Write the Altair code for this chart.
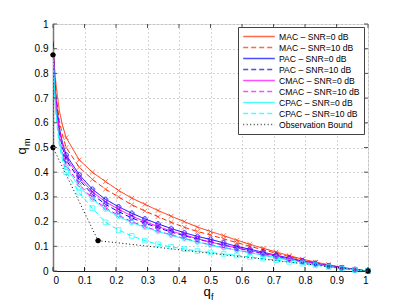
import altair as alt
import pandas as pd

QF = [0.0, 0.005, 0.01, 0.02, 0.03,
      0.0417, 0.0833, 0.125, 0.1667, 0.2083, 0.25, 0.2917, 0.3333, 0.375, 0.4167,
      0.4583, 0.5, 0.5417, 0.5833, 0.625, 0.6667, 0.7083, 0.75, 0.7917, 0.8333,
      0.875, 0.9167, 0.9583, 1.0]

MAC_0 = [0.92, 0.82, 0.75, 0.65, 0.59,
         0.54, 0.45, 0.40, 0.362, 0.326, 0.295, 0.270, 0.245, 0.222, 0.200,
         0.178, 0.160, 0.143, 0.125, 0.108, 0.092, 0.077, 0.062, 0.048, 0.036,
         0.025, 0.015, 0.007, 0.0]
MAC_10 = [0.91, 0.79, 0.71, 0.61, 0.55,
          0.50, 0.42, 0.371, 0.331, 0.300, 0.268, 0.243, 0.220, 0.197, 0.177,
          0.160, 0.146, 0.130, 0.115, 0.100, 0.086, 0.072, 0.058, 0.046, 0.034,
          0.024, 0.014, 0.006, 0.0]
PAC_0 = [0.93, 0.78, 0.69, 0.58, 0.52,
         0.47, 0.39, 0.331, 0.290, 0.260, 0.234, 0.211, 0.191, 0.172, 0.155,
         0.140, 0.128, 0.114, 0.100, 0.088, 0.076, 0.064, 0.052, 0.041, 0.031,
         0.021, 0.013, 0.006, 0.0]
PAC_10 = [0.92, 0.76, 0.67, 0.56, 0.50,
          0.45, 0.37, 0.310, 0.270, 0.240, 0.215, 0.194, 0.175, 0.158, 0.143,
          0.129, 0.117, 0.105, 0.093, 0.082, 0.071, 0.060, 0.049, 0.039, 0.029,
          0.020, 0.012, 0.005, 0.0]
CMAC_0 = [0.91, 0.77, 0.68, 0.57, 0.51,
          0.46, 0.38, 0.320, 0.280, 0.250, 0.223, 0.200, 0.180, 0.162, 0.146,
          0.131, 0.117, 0.105, 0.094, 0.083, 0.072, 0.061, 0.050, 0.040, 0.030,
          0.021, 0.012, 0.005, 0.0]
CMAC_10 = [0.90, 0.75, 0.65, 0.54, 0.48,
           0.43, 0.35, 0.295, 0.255, 0.225, 0.200, 0.180, 0.162, 0.146, 0.132,
           0.118, 0.106, 0.095, 0.085, 0.075, 0.065, 0.055, 0.045, 0.036, 0.027,
           0.019, 0.011, 0.005, 0.0]
CPAC_0 = [0.90, 0.74, 0.64, 0.53, 0.47,
          0.42, 0.34, 0.290, 0.250, 0.220, 0.196, 0.177, 0.160, 0.145, 0.130,
          0.117, 0.105, 0.094, 0.084, 0.074, 0.064, 0.054, 0.045, 0.036, 0.027,
          0.019, 0.011, 0.005, 0.0]
CPAC_10 = [0.88, 0.72, 0.62, 0.51, 0.45,
           0.40, 0.317, 0.254, 0.197, 0.166, 0.142, 0.123, 0.108, 0.098, 0.089,
           0.081, 0.075, 0.069, 0.063, 0.057, 0.050, 0.044, 0.037, 0.030, 0.023,
           0.016, 0.010, 0.004, 0.0]

OBS_QF = [0.0, 0.0, 0.143, 1.0]
OBS_QM = [0.875, 0.5, 0.123, 0.0]

SERIES = ["MAC – SNR=0 dB", "MAC – SNR=10 dB", "PAC – SNR=0 dB", "PAC – SNR=10 dB",
          "CMAC – SNR=0 dB", "CMAC – SNR=10 dB", "CPAC – SNR=0 dB", "CPAC – SNR=10 dB",
          "Observation Bound"]
VALUES = [MAC_0, MAC_10, PAC_0, PAC_10, CMAC_0, CMAC_10, CPAC_0, CPAC_10]
COLORS = ["#ff2a00", "#ff2a00", "#0000ff", "#0000ff", "#ff00ff", "#ff00ff",
          "#00ffff", "#00ffff", "#000000"]
DASHES = [[1, 0], [5, 3], [1, 0], [5, 3], [1, 0], [5, 3], [1, 0], [5, 3], [1, 2.5]]
XMARK = "M-1,-1L1,1M-1,1L1,-1"
STAR = "M0,-1L0,1M-1,0L1,0M-0.7,-0.7L0.7,0.7M-0.7,0.7L0.7,-0.7"
SHAPES = [XMARK, XMARK, "cross", "cross", "circle", "diamond", "circle", "square"]
TICKS = [0.0, 0.1, 0.2, 0.3, 0.4, 0.5, 0.6, 0.7, 0.8, 0.9, 1.0]

rows, prow = [], []
for name, vals, col, shp in zip(SERIES[:8], VALUES, COLORS[:8], SHAPES):
    for i, (x, y) in enumerate(zip(QF, vals)):
        rows.append({"series": name, "qf": x, "qm": y, "idx": i})
        if i >= 5:
            prow.append({"series": name, "qf": x, "qm": y, "col": col, "shp": shp})
for i, (x, y) in enumerate(zip(OBS_QF, OBS_QM)):
    rows.append({"series": SERIES[8], "qf": x, "qm": y, "idx": i})
df = pd.DataFrame(rows)
pdf = pd.DataFrame(prow)
odf = pd.DataFrame({"qf": OBS_QF, "qm": OBS_QM})
tdf = pd.DataFrame({"t": TICKS})

W, H = 315, 247
FONT = "Liberation Sans"

xs = alt.Scale(domain=[0, 1], nice=False)
ys = alt.Scale(domain=[0, 1], nice=False)

legend = alt.Legend(title=None, orient="none", legendX=185, legendY=3,
                    fillColor="white", strokeColor="#444", padding=4,
                    labelFont=FONT, labelFontSize=8.6, labelColor="black",
                    symbolType="stroke", symbolSize=1000, symbolStrokeWidth=1.4,
                    clipHeight=11, rowPadding=0, labelOffset=3)

xaxis = alt.Axis(values=TICKS, format=".1~f", grid=True, gridDash=[1, 3], gridColor="#aaa",
                 ticks=False, labelFont=FONT, labelFontSize=10, labelColor="black",
                 domainColor="#222", title=None, labelPadding=4, labelOverlap=False)
yaxis = alt.Axis(values=TICKS, format=".1~f", grid=True, gridDash=[1, 3], gridColor="#aaa",
                 ticks=False, labelFont=FONT, labelFontSize=10, labelColor="black",
                 domainColor="#777", domainWidth=1.5, title=None, labelPadding=5,
                 labelOverlap=False)

X = lambda f: alt.X(f, scale=xs, axis=xaxis)
Y = lambda f: alt.Y(f, scale=ys, axis=yaxis)

lines = alt.Chart(df).mark_line(strokeWidth=1, clip=True).encode(
    x=X("qf:Q"),
    y=Y("qm:Q"),
    color=alt.Color("series:N", scale=alt.Scale(domain=SERIES, range=COLORS), legend=legend),
    strokeDash=alt.StrokeDash("series:N", scale=alt.Scale(domain=SERIES, range=DASHES), legend=legend),
    order="idx:Q",
    detail="series:N",
)

points = alt.Chart(pdf).mark_point(filled=False, size=22, strokeWidth=0.9).encode(
    x=X("qf:Q"),
    y=Y("qm:Q"),
    color=alt.Color("col:N", scale=None),
    shape=alt.Shape("shp:N", scale=None),
)

obs_dot = alt.Chart(odf).mark_point(shape="circle", size=18, filled=True, color="black", opacity=1).encode(
    x=X("qf:Q"), y=Y("qm:Q"))
obs = alt.Chart(odf).mark_point(shape=STAR, size=30, strokeWidth=1.6, color="black", filled=False, opacity=1).encode(
    x=X("qf:Q"), y=Y("qm:Q"))

tick_b = alt.Chart(tdf).mark_rule(color="#222").encode(x=X("t:Q"), y=alt.value(H), y2=alt.value(H - 4))
tick_t = alt.Chart(tdf).mark_rule(color="#555").encode(x=X("t:Q"), y=alt.value(0), y2=alt.value(4))
tick_l = alt.Chart(tdf).mark_rule(color="#555").encode(y=Y("t:Q"), x=alt.value(0), x2=alt.value(4))
tick_r = alt.Chart(tdf).mark_rule(color="#555").encode(y=Y("t:Q"), x=alt.value(W), x2=alt.value(W - 4))

one = pd.DataFrame({"a": [0]})
xt = alt.Chart(one).mark_text(text="q", font=FONT, fontSize=13, align="center", baseline="alphabetic").encode(
    x=alt.value(154), y=alt.value(272))
xs_ = alt.Chart(one).mark_text(text="f", font=FONT, fontSize=9, align="left", baseline="alphabetic").encode(
    x=alt.value(158), y=alt.value(276))
yt = alt.Chart(one).mark_text(text="q", font=FONT, fontSize=13, align="center", baseline="alphabetic", angle=270).encode(
    x=alt.value(-27), y=alt.value(127))
ys_ = alt.Chart(one).mark_text(text="m", font=FONT, fontSize=9, align="left", baseline="alphabetic", angle=270).encode(
    x=alt.value(-23), y=alt.value(122))

chart = alt.layer(lines, points, obs_dot, obs, tick_b, tick_t, tick_l, tick_r, xt, xs_, yt, ys_).properties(
    width=W, height=H,
    autosize=alt.AutoSizeParams(type="none"),
    padding={"left": 45, "top": 16, "right": 30, "bottom": 35},
).configure_view(stroke="#666", strokeWidth=1).configure(background="white")

chart.save("out.html", embed_options={"renderer": "svg", "actions": False})
